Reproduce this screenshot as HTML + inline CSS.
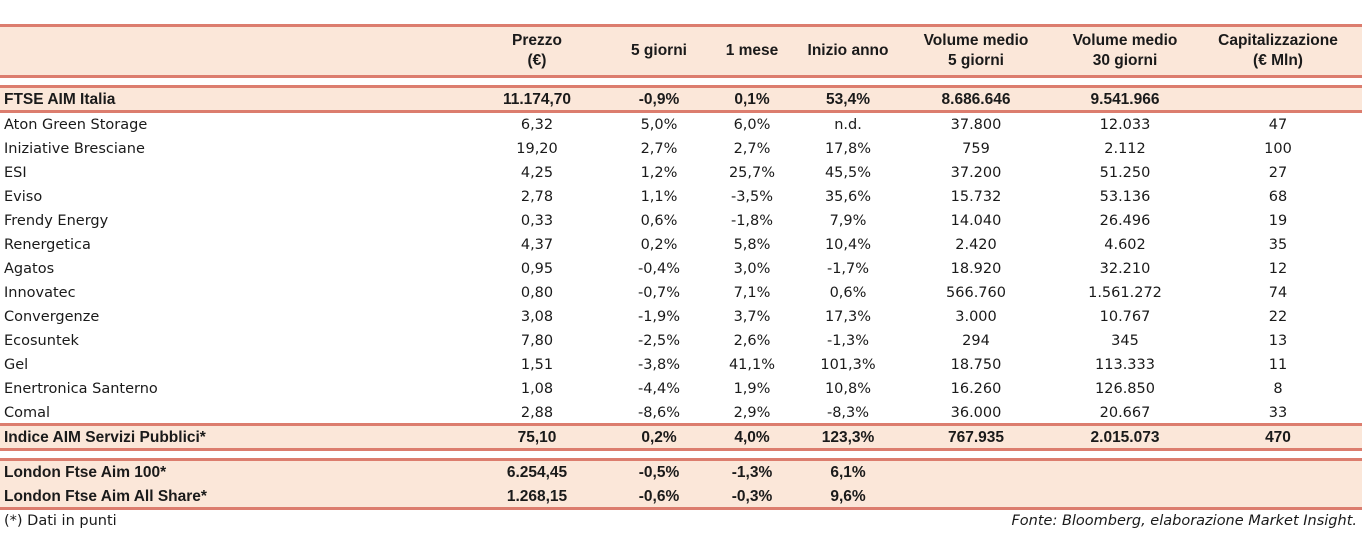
<!DOCTYPE html>
<html><head><meta charset="utf-8"><style>
body{margin:0;width:1363px;height:533px;background:#fff;position:relative;overflow:hidden;font-family:"DejaVu Sans","Liberation Sans",sans-serif;color:#1a1a1a}
.bg{position:absolute;left:0;width:1362px;background:#fbe7d9}
.ln{position:absolute;left:0;width:1362px;height:3px;background:#dc7d6e}
.c{position:absolute;white-space:nowrap;font-size:14.5px;line-height:24px}
.n{transform:translateX(-50%);text-align:center}
.b{font-family:"Liberation Sans",sans-serif;font-weight:bold;font-size:15.5px}
.h{font-family:"Liberation Sans",sans-serif;font-weight:bold;font-size:15.5px;line-height:20px;text-align:center;transform:translateX(-50%)}
</style></head><body>
<div class="bg" style="top:26px;height:50px"></div>
<div class="ln" style="top:24px"></div>
<div class="ln" style="top:75px"></div>
<div class="bg" style="top:87px;height:24px"></div>
<div class="ln" style="top:85px"></div>
<div class="ln" style="top:110px"></div>
<div class="bg" style="top:425px;height:24px"></div>
<div class="ln" style="top:423px"></div>
<div class="ln" style="top:448px"></div>
<div class="bg" style="top:460px;height:48px"></div>
<div class="ln" style="top:458px"></div>
<div class="ln" style="top:507px"></div>
<div id="t"></div>
<div class="c" style="left:4px;top:509px">(*) Dati in punti</div>
<div class="c" style="right:6px;top:509px;font-style:italic">Fonte: Bloomberg, elaborazione Market Insight.</div>
<script>
const colX=[537,659,752,848,976,1125,1278];
const headers=[["Prezzo","(€)"],["5 giorni"],["1 mese"],["Inizio anno"],["Volume medio","5 giorni"],["Volume medio","30 giorni"],["Capitalizzazione","(€ Mln)"]];
const names=["FTSE AIM Italia","Aton Green Storage","Iniziative Bresciane","ESI","Eviso","Frendy Energy","Renergetica","Agatos","Innovatec","Convergenze","Ecosuntek","Gel","Enertronica Santerno","Comal","Indice AIM Servizi Pubblici*","London Ftse Aim 100*","London Ftse Aim All Share*"];
const rows=[
["11.174,70","-0,9%","0,1%","53,4%","8.686.646","9.541.966",""],
["6,32","5,0%","6,0%","n.d.","37.800","12.033","47"],
["19,20","2,7%","2,7%","17,8%","759","2.112","100"],
["4,25","1,2%","25,7%","45,5%","37.200","51.250","27"],
["2,78","1,1%","-3,5%","35,6%","15.732","53.136","68"],
["0,33","0,6%","-1,8%","7,9%","14.040","26.496","19"],
["4,37","0,2%","5,8%","10,4%","2.420","4.602","35"],
["0,95","-0,4%","3,0%","-1,7%","18.920","32.210","12"],
["0,80","-0,7%","7,1%","0,6%","566.760","1.561.272","74"],
["3,08","-1,9%","3,7%","17,3%","3.000","10.767","22"],
["7,80","-2,5%","2,6%","-1,3%","294","345","13"],
["1,51","-3,8%","41,1%","101,3%","18.750","113.333","11"],
["1,08","-4,4%","1,9%","10,8%","16.260","126.850","8"],
["2,88","-8,6%","2,9%","-8,3%","36.000","20.667","33"],
["75,10","0,2%","4,0%","123,3%","767.935","2.015.073","470"],
["6.254,45","-0,5%","-1,3%","6,1%","","",""],
["1.268,15","-0,6%","-0,3%","9,6%","","",""]];
const rowTop=[88,113,137,161,185,209,233,257,281,305,329,353,377,401,426,461,485];
const t=document.getElementById('t');
headers.forEach((h,i)=>{const d=document.createElement('div');d.className='c h';


d.style.left=colX[i]+'px';d.style.top=(h.length>1?31:41)+'px';d.innerHTML=h.join('<br>');t.appendChild(d);});
names.forEach((n,r)=>{const bold=(r==0||r>=14);
const d=document.createElement('div');d.className='c'+(bold?' b':'');


d.style.left='4px';d.style.top=rowTop[r]+'px';d.textContent=n;t.appendChild(d);
rows[r].forEach((v,i)=>{if(!v)return;const e=document.createElement('div');e.className='c n'+(bold?' b':'');


e.style.left=colX[i]+'px';e.style.top=rowTop[r]+'px';e.textContent=v;t.appendChild(e);});});
</script>
</body></html>
